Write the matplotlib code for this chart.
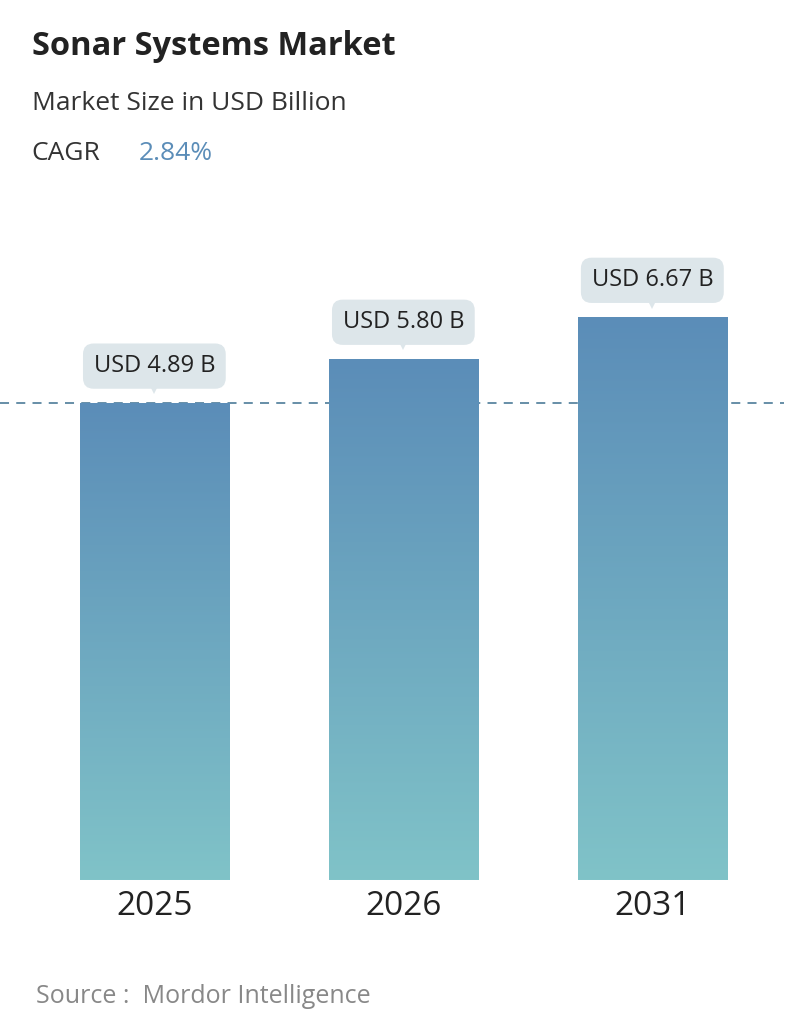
import numpy as np
import matplotlib.pyplot as plt
from matplotlib.colors import LinearSegmentedColormap

plt.rcParams['font.family'] = ['Open Sans', 'DejaVu Sans']

years = ["2025", "2026", "2031"]
values = [4.89, 5.80, 6.67]
labels = ["USD 4.89 B", "USD 5.80 B", "USD 6.67 B"]

base = -5.0
fig = plt.figure(figsize=(7.96, 10.34), dpi=100)
ax = fig.add_axes([0, 0.149, 1, 0.606])
ax.set_xlim(-0.62, 2.577)
ax.set_ylim(base, 8.0)
ax.axis("off")

cmap = LinearSegmentedColormap.from_list("bar", ["#80c3c8", "#5b8db8"])
grad = np.linspace(0, 1, 256).reshape(-1, 1)
w = 0.6
for i, v in enumerate(values):
    ax.imshow(grad, extent=[i - w / 2, i + w / 2, base, v], origin="lower",
              cmap=cmap, aspect="auto", zorder=2)
    ax.text(i, v + 0.77, labels[i], ha="center", va="center",
            fontsize=17, color="#222222", zorder=4,
            bbox=dict(boxstyle="round,pad=0.45,rounding_size=0.45",
                      fc="#dde6ea", ec="none"))
    ax.plot(i, v + 0.33, marker="v", ms=10, mew=0, color="#dde6ea", zorder=3)
    ax.text(i, base - 0.2, years[i], ha="center", va="top", fontsize=24, color="#222222")
ax.set_aspect("auto")
ax.axhline(values[0], xmin=0.0, xmax=0.985, ls=(0, (5, 4)), color="#5a86a0", lw=1.3, zorder=1)

fig.text(0.04, 0.955, "Sonar Systems Market", fontsize=23.5, fontweight="bold", color="#222222", va="center")
fig.text(0.04, 0.9, "Market Size in USD Billion", fontsize=19, color="#333333", va="center")
fig.text(0.04, 0.852, "CAGR", fontsize=19, color="#333333", va="center")
fig.text(0.174, 0.852, "2.84%", fontsize=19, color="#5b8db8", va="center")
fig.text(0.045, 0.036, "Source :  Mordor Intelligence", fontsize=18, color="#888888", va="center")

fig.savefig("out.png", dpi=100)
